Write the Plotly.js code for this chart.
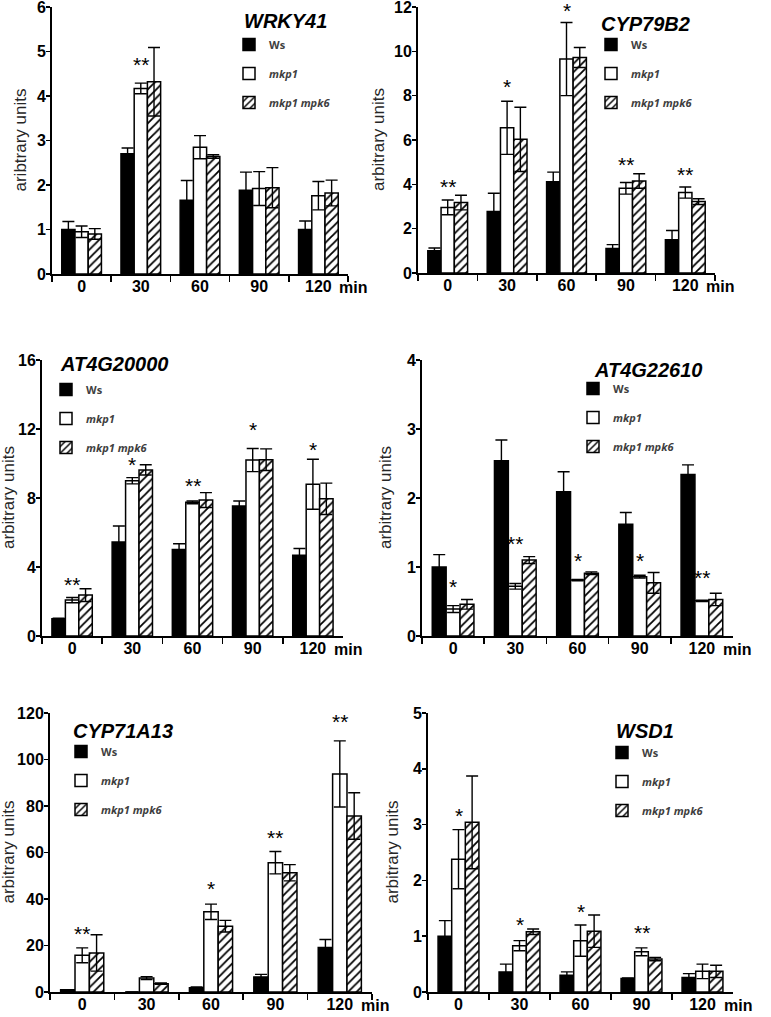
<!DOCTYPE html>
<html>
<head>
<meta charset="utf-8">
<script src="https://cdn.plot.ly/plotly-3.0.1.min.js"></script>
<style>
  body { margin: 0; background: #fff; }
  #chart { width: 771px; height: 1017px; }
</style>
</head>
<body>
<div id="chart"></div>
<script>
// time points (min)
const times = ['0', '30', '60', '90', '120'];

// WRKY41
const wrky41_ws = [1.0, 2.7, 1.66, 1.88, 1.0];
const wrky41_wsErr = [0.18, 0.13, 0.44, 0.41, 0.19];
const wrky41_mkp1 = [0.95, 4.17, 2.85, 1.92, 1.76];
const wrky41_mkp1Err = [0.13, 0.12, 0.26, 0.38, 0.32];
const wrky41_mpk6 = [0.9, 4.32, 2.64, 1.94, 1.82];
const wrky41_mpk6Err = [0.12, 0.77, 0.04, 0.45, 0.29];
const wrky41_sig = ['', '**', '', '', ''];
const wrky41_sigY = [0, 4.75, 0, 0, 0];

// CYP79B2
const cyp79b2_ws = [1.0, 2.77, 4.12, 1.1, 1.5];
const cyp79b2_wsErr = [0.13, 0.83, 0.43, 0.18, 0.42];
const cyp79b2_mkp1 = [2.96, 6.55, 9.65, 3.82, 3.63];
const cyp79b2_mkp1Err = [0.33, 1.2, 1.65, 0.26, 0.25];
const cyp79b2_mpk6 = [3.18, 6.03, 9.72, 4.15, 3.22];
const cyp79b2_mpk6Err = [0.33, 1.45, 0.45, 0.33, 0.13];
const cyp79b2_sig = ['**', '*', '*', '**', '**'];
const cyp79b2_sigY = [4.0, 8.5, 11.95, 5.0, 4.55];

// AT4G20000
const at4g20000_ws = [1.0, 5.45, 5.02, 7.54, 4.68];
const at4g20000_wsErr = [0.03, 0.93, 0.33, 0.29, 0.39];
const at4g20000_mkp1 = [2.08, 9.0, 7.75, 10.2, 8.8];
const at4g20000_mkp1Err = [0.15, 0.18, 0.08, 0.67, 1.45];
const at4g20000_mpk6 = [2.37, 9.63, 7.88, 10.22, 7.95];
const at4g20000_mpk6Err = [0.37, 0.3, 0.43, 0.63, 0.91];
const at4g20000_sig = ['**', '*', '**', '*', '*'];
const at4g20000_sigY = [3.1, 10.05, 8.85, 12.1, 10.9];

// AT4G22610
const at4g22610_ws = [1.0, 2.54, 2.09, 1.62, 2.34];
const at4g22610_wsErr = [0.18, 0.3, 0.29, 0.17, 0.14];
const at4g22610_mkp1 = [0.39, 0.72, 0.81, 0.86, 0.51];
const at4g22610_mkp1Err = [0.05, 0.04, 0.01, 0.02, 0.01];
const at4g22610_mpk6 = [0.46, 1.1, 0.91, 0.77, 0.53];
const at4g22610_mpk6Err = [0.07, 0.05, 0.02, 0.15, 0.09];
const at4g22610_sig = ['*', '**', '*', '*', '**'];
const at4g22610_sigY = [0.74, 1.37, 1.13, 1.13, 0.88];

// CYP71A13
const cyp71a13_ws = [1.0, 0, 1.8, 6.5, 19.1];
const cyp71a13_wsErr = [0, 0, 0.4, 1.1, 3.5];
const cyp71a13_mkp1 = [15.8, 6.0, 34.5, 55.6, 93.8];
const cyp71a13_mkp1Err = [3.2, 0.6, 3.3, 4.8, 14.2];
const cyp71a13_mpk6 = [16.8, 3.6, 28.3, 51.3, 75.7];
const cyp71a13_mpk6Err = [7.8, 0.3, 2.5, 3.5, 10.0];
const cyp71a13_sig = ['**', '', '*', '**', '**'];
const cyp71a13_sigY = [25.9, 0, 45.3, 67.5, 117.1];

// WSD1
const wsd1_ws = [1.0, 0.36, 0.3, 0.24, 0.26];
const wsd1_wsErr = [0.28, 0.14, 0.06, 0.01, 0.07];
const wsd1_mkp1 = [2.38, 0.83, 0.92, 0.72, 0.37];
const wsd1_mkp1Err = [0.53, 0.09, 0.28, 0.07, 0.13];
const wsd1_mpk6 = [3.04, 1.08, 1.09, 0.59, 0.37];
const wsd1_mpk6Err = [0.83, 0.05, 0.29, 0.03, 0.11];
const wsd1_sig = ['*', '*', '*', '**', ''];
const wsd1_sigY = [3.2, 1.24, 1.47, 1.11, 0];

const W = 771, H = 1017;
const px = v => v / W;
const py = v => 1 - v / H;

const FONT = 'Liberation Sans, Arial, sans-serif';
const LEGFONT = 'Open Sans, Liberation Sans, sans-serif';

// layout of each panel in page pixels
const panels = [
  {gene: 'WRKY41', ws: wrky41_ws, wsErr: wrky41_wsErr, mkp1: wrky41_mkp1, mkp1Err: wrky41_mkp1Err,
   mpk6: wrky41_mpk6, mpk6Err: wrky41_mpk6Err, sig: wrky41_sig, sigY: wrky41_sigY,
   box: [52, 348, 7, 274], ymax: 6, dtick: 1, title: [285, 21], leg: [229, 30], ytx: 20, ytitle: 'aribtrary units'},
  {gene: 'CYP79B2', ws: cyp79b2_ws, wsErr: cyp79b2_wsErr, mkp1: cyp79b2_mkp1, mkp1Err: cyp79b2_mkp1Err,
   mpk6: cyp79b2_mpk6, mpk6Err: cyp79b2_mpk6Err, sig: cyp79b2_sig, sigY: cyp79b2_sigY,
   box: [418, 715, 7, 273], ymax: 12, dtick: 2, title: [645, 24], leg: [591, 30], ytx: 379, ytitle: 'arbitrary units'},
  {gene: 'AT4G20000', ws: at4g20000_ws, wsErr: at4g20000_wsErr, mkp1: at4g20000_mkp1, mkp1Err: at4g20000_mkp1Err,
   mpk6: at4g20000_mpk6, mpk6Err: at4g20000_mpk6Err, sig: at4g20000_sig, sigY: at4g20000_sigY,
   box: [42, 343, 360, 636], ymax: 16, dtick: 4, title: [114, 364], leg: [46, 375], ytx: 8, ytitle: 'arbitrary units'},
  {gene: 'AT4G22610', ws: at4g22610_ws, wsErr: at4g22610_wsErr, mkp1: at4g22610_mkp1, mkp1Err: at4g22610_mkp1Err,
   mpk6: at4g22610_mpk6, mpk6Err: at4g22610_mpk6Err, sig: at4g22610_sig, sigY: at4g22610_sigY,
   box: [422, 733, 360, 636], ymax: 4, dtick: 1, title: [648, 370], leg: [573, 374], ytx: 385, ytitle: 'arbitrary units'},
  {gene: 'CYP71A13', ws: cyp71a13_ws, wsErr: cyp71a13_wsErr, mkp1: cyp71a13_mkp1, mkp1Err: cyp71a13_mkp1Err,
   mpk6: cyp71a13_mpk6, mpk6Err: cyp71a13_mpk6Err, sig: cyp71a13_sig, sigY: cyp71a13_sigY,
   box: [50, 372, 713, 992], ymax: 120, dtick: 20, title: [123, 731], leg: [61, 737], ytx: 8, ytitle: 'arbitrary units'},
  {gene: 'WSD1', ws: wsd1_ws, wsErr: wsd1_wsErr, mkp1: wsd1_mkp1, mkp1Err: wsd1_mkp1Err,
   mpk6: wsd1_mpk6, mpk6Err: wsd1_mpk6Err, sig: wsd1_sig, sigY: wsd1_sigY,
   box: [428, 733, 713, 992], ymax: 5, dtick: 1, title: [645, 731], leg: [602, 738], ytx: 392, ytitle: 'arbitrary units'}
];

const outline = {color: '#000', width: 1.5};
function errBars(arr) {
  return {type: 'data', array: arr, visible: true, color: '#000', thickness: 1.4, width: 6};
}

const data = [];
const layout = {
  width: W,
  height: H,
  margin: {l: 0, r: 0, t: 0, b: 0},
  paper_bgcolor: '#fff',
  plot_bgcolor: 'rgba(0,0,0,0)',
  barmode: 'group',
  bargap: 0.33,
  bargroupgap: 0,
  font: {family: FONT, color: '#000'},
  annotations: []
};

panels.forEach((p, i) => {
  const k = i + 1;
  const xa = k === 1 ? 'x' : 'x' + k;
  const ya = k === 1 ? 'y' : 'y' + k;
  const leg = k === 1 ? 'legend' : 'legend' + k;

  data.push({
    type: 'bar', x: times, y: p.ws, name: 'Ws', xaxis: xa, yaxis: ya,
    legend: leg, legendgroup: 'ws' + k,
    marker: {color: '#000', line: outline},
    error_y: errBars(p.wsErr)
  });
  data.push({
    type: 'bar', x: times, y: p.mkp1, name: '<i>mkp1</i>', xaxis: xa, yaxis: ya,
    legend: leg, legendgroup: 'mkp1' + k,
    marker: {color: '#fff', line: outline},
    error_y: errBars(p.mkp1Err)
  });
  data.push({
    type: 'bar', x: times, y: p.mpk6, name: '<i>mkp1 mpk6</i>', xaxis: xa, yaxis: ya,
    legend: leg, legendgroup: 'mpk6' + k,
    marker: {color: '#fff', line: outline,
      pattern: {shape: '/', fgcolor: '#000', bgcolor: '#fff', size: 6, solidity: 0.3}},
    error_y: errBars(p.mpk6Err)
  });

  layout['xaxis' + (k === 1 ? '' : k)] = {
    domain: [px(p.box[0]), px(p.box[1])],
    anchor: ya,
    type: 'category',
    range: [-0.5, times.length - 0.5],
    showline: true, linecolor: '#000', linewidth: 2,
    ticks: 'outside', tickson: 'boundaries', ticklen: 6, tickwidth: 1.5, tickcolor: '#000',
    ticklabelstandoff: -3, ticklabeloverflow: 'allow',
    tickfont: {family: FONT, size: 16, weight: 'bold', color: '#000'},
    showgrid: false, zeroline: false, fixedrange: true
  };
  layout['yaxis' + (k === 1 ? '' : k)] = {
    domain: [py(p.box[3]), py(p.box[2])],
    anchor: xa,
    range: [0, p.ymax], tick0: 0, dtick: p.dtick,
    showline: true, linecolor: '#000', linewidth: 2,
    ticks: 'outside', ticklen: 4, tickwidth: 1.5, tickcolor: '#000',
    ticklabelstandoff: -3, ticklabeloverflow: 'allow',
    tickfont: {family: FONT, size: 16, weight: 'bold', color: '#000'},
    showgrid: false, zeroline: false, fixedrange: true
  };
  layout[leg] = {
    x: px(p.leg[0]), y: py(p.leg[1]), xanchor: 'left', yanchor: 'top',
    bgcolor: 'rgba(0,0,0,0)', borderwidth: 0,
    traceorder: 'grouped', tracegroupgap: 10,
    font: {family: LEGFONT, size: 11, weight: 'bold', color: '#404040'}
  };

  // gene name
  layout.annotations.push({
    xref: 'paper', yref: 'paper', x: px(p.title[0]), y: py(p.title[1]),
    xanchor: 'center', yanchor: 'middle',
    text: '<b><i>' + p.gene + '</i></b>', showarrow: false,
    font: {family: FONT, size: 20, color: '#000'}
  });
  // y axis title
  layout.annotations.push({
    xref: 'paper', yref: ya + ' domain', x: px(p.ytx), y: 0.5,
    xanchor: 'center', yanchor: 'middle',
    text: p.ytitle, textangle: -90, showarrow: false,
    font: {family: FONT, size: 17, color: '#262626'}
  });
  // "min" after the last time point (category index)
  layout.annotations.push({
    xref: xa, yref: ya + ' domain', x: times.length - 1, y: 0,
    xanchor: 'left', yanchor: 'middle', xshift: 19, yshift: -13,
    text: '<b>min</b>', showarrow: false,
    font: {family: FONT, size: 16, color: '#000'}
  });
  // significance stars, placed by category index
  p.sig.forEach((s, j) => {
    if (!s) return;
    layout.annotations.push({
      xref: xa, yref: ya, x: j, y: p.sigY[j],
      xanchor: 'center', yanchor: 'middle',
      text: s, showarrow: false, yshift: -2,
      font: {family: FONT, size: 21, color: '#000'}
    });
  });
});

Plotly.newPlot('chart', data, layout, {displayModeBar: false, staticPlot: true});
</script>
</body>
</html>
